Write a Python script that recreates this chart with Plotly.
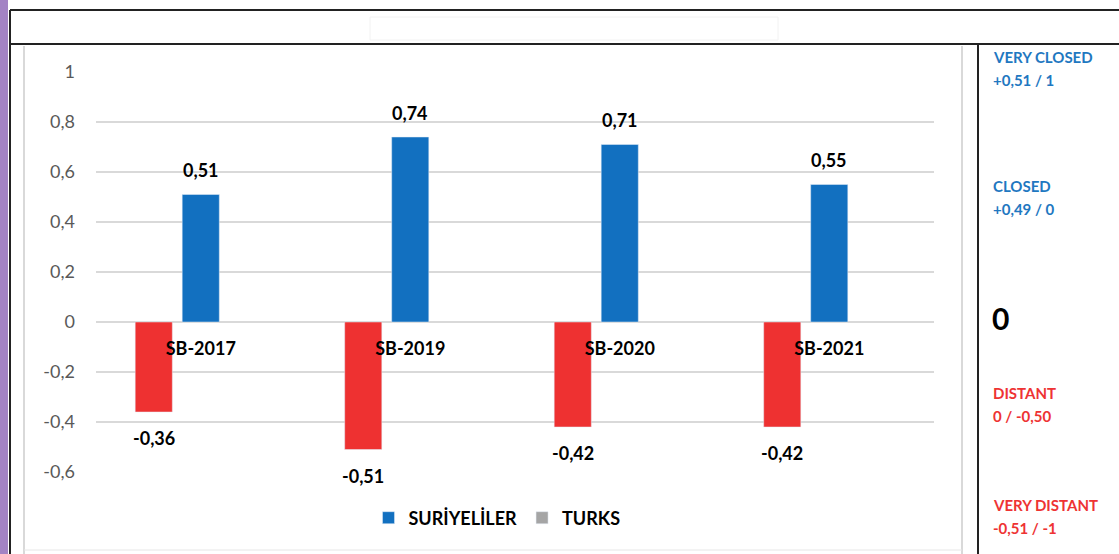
import plotly.graph_objects as go

# ---- data ----
categories = ["SB-2017", "SB-2019", "SB-2020", "SB-2021"]
distant_values = [-0.36, -0.51, -0.42, -0.42]      # red bars
suriyeliler_values = [0.51, 0.74, 0.71, 0.55]      # blue bars
turks_values = [None, None, None, None]            # legend-only series (gray)
y_tick_vals = [1, 0.8, 0.6, 0.4, 0.2, 0, -0.2, -0.4, -0.6]
y_tick_text = ["1", "0,8", "0,6", "0,4", "0,2", "0", "-0,2", "-0,4", "-0,6"]
side_labels = [
    ("VERY CLOSED", "+0,51 / 1", "blue"),
    ("CLOSED", "+0,49 / 0", "blue"),
    ("DISTANT", "0 / -0,50", "red"),
    ("VERY DISTANT", "-0,51 / -1", "red"),
]

# ---- style ----
W, H = 1119, 554
RED = "#EE3131"
BLUE = "#1270C0"
GRAY = "#A5A5A5"
TXT_BLUE = "#1F78C1"
TXT_RED = "#EE3333"
FONT = "Lato"

px_left, px_right = 96, 934
px_top, px_bottom = 72, 472
bargap = 0.327
bargroupgap = 0.21
slot_px = (px_right - px_left) / len(categories) * (1 - bargap) / 3


def fmt(v):
    return f"{v:.2f}".replace(".", ",")


fig = go.Figure()
fig.add_trace(go.Bar(x=categories, y=distant_values, marker_color=RED,
                     showlegend=False, name="distant"))
fig.add_trace(go.Bar(x=categories, y=suriyeliler_values, marker_color=BLUE,
                     name="SURİYELİLER"))
fig.add_trace(go.Bar(x=categories, y=turks_values, marker_color=GRAY,
                     name="TURKS"))

# data labels
for c, v in zip(categories, suriyeliler_values):
    fig.add_annotation(x=c, y=v, xref="x", yref="y", text=fmt(v), showarrow=False,
                       yanchor="bottom", yshift=11,
                       font=dict(family=FONT, size=18, color="black", weight="bold"))
for c, v in zip(categories, distant_values):
    fig.add_annotation(x=c, y=v, xref="x", yref="y", text=fmt(v), showarrow=False,
                       yanchor="top", yshift=-13, xshift=-slot_px,
                       font=dict(family=FONT, size=18, color="black", weight="bold"))

# right panel labels
side_y = [(57, 80), (186, 209), (393, 416), (505, 528)]
for (t1, t2, col), (y1, y2) in zip(side_labels, side_y):
    color = TXT_BLUE if col == "blue" else TXT_RED
    for t, yy in ((t1, y1), (t2, y2)):
        fig.add_annotation(x=991 / W, y=1 - yy / H, xref="paper", yref="paper",
                           text=t, showarrow=False, xanchor="left", yanchor="middle",
                           font=dict(family=FONT, size=15, color=color, weight="bold"))
fig.add_annotation(x=990 / W, y=1 - 318 / H, xref="paper", yref="paper", text="0",
                   showarrow=False, xanchor="left", yanchor="middle",
                   font=dict(family=FONT, size=30, color="black", weight="bold"))

# frame / decoration shapes
shapes = [
    dict(type="rect", xref="paper", yref="paper", x0=0, x1=8 / W, y0=0, y1=1,
         fillcolor="#A383C4", line_width=0),
    dict(type="line", xref="paper", yref="paper", x0=10 / W, x1=1, y0=1 - 10 / H, y1=1 - 10 / H,
         line=dict(color="#222", width=2)),
    dict(type="line", xref="paper", yref="paper", x0=10 / W, x1=1, y0=1 - 44 / H, y1=1 - 44 / H,
         line=dict(color="#222", width=2)),
    dict(type="line", xref="paper", yref="paper", x0=10 / W, x1=10 / W, y0=0, y1=1 - 10 / H,
         line=dict(color="#222", width=2)),
    dict(type="line", xref="paper", yref="paper", x0=978 / W, x1=978 / W, y0=0, y1=1 - 44 / H,
         line=dict(color="#222", width=2)),
    dict(type="line", xref="paper", yref="paper", x0=24 / W, x1=24 / W, y0=0, y1=1 - 46 / H,
         line=dict(color="#D9D9D9", width=2)),
    dict(type="line", xref="paper", yref="paper", x0=962 / W, x1=962 / W, y0=0, y1=1 - 46 / H,
         line=dict(color="#D9D9D9", width=2)),
    dict(type="line", xref="paper", yref="paper", x0=24 / W, x1=962 / W, y0=4 / H, y1=4 / H,
         line=dict(color="#E6E6E6", width=1)),
    dict(type="rect", xref="paper", yref="paper", x0=370 / W, x1=778 / W,
         y0=1 - 40 / H, y1=1 - 17 / H, line=dict(color="#F2F2F2", width=1)),
]

y_dom = [1 - px_bottom / H, 1 - px_top / H]
zero_frac = (0 - (-0.6)) / (1 - (-0.6))
x_pos = y_dom[0] + zero_frac * (y_dom[1] - y_dom[0])

fig.update_layout(
    width=W, height=H,
    margin=dict(l=0, r=0, t=0, b=0, pad=0, autoexpand=False),
    paper_bgcolor="white", plot_bgcolor="white",
    barmode="group", bargap=bargap, bargroupgap=bargroupgap,
    shapes=shapes,
    font=dict(family=FONT),
    xaxis=dict(domain=[px_left / W, px_right / W], anchor="free", position=x_pos,
               showgrid=False, showline=False, zeroline=False, ticks="",
               ticklabelstandoff=14,
               tickfont=dict(family=FONT, size=18, color="black", weight="bold")),
    yaxis=dict(domain=y_dom, range=[-0.6, 1], tickvals=y_tick_vals, ticktext=y_tick_text,
               showgrid=True, gridcolor="#D9D9D9", gridwidth=2, zeroline=False,
               showline=False, ticks="", ticklabelstandoff=20,
               tickfont=dict(family=FONT, size=18, color="#595959")),
    legend=dict(orientation="h", x=497 / W, y=1 - 518 / H, xanchor="center", yanchor="middle",
                font=dict(family=FONT, size=18, color="black", weight="bold"),
                bgcolor="rgba(0,0,0,0)", traceorder="normal"),
    showlegend=True,
)

fig.write_html(
    "out.html",
    config={"displayModeBar": False},
    post_script="document.body.style.margin='0';document.body.style.overflow='hidden';",
)
